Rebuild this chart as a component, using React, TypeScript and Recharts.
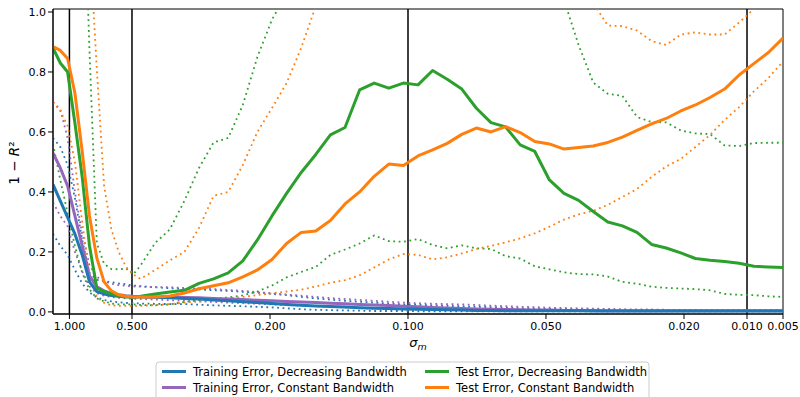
import { Label, Line, LineChart, ReferenceArea, ReferenceLine, XAxis, YAxis } from "recharts";

// position along the sigma schedule (denser sampling at the start)
const steps = [
  0, 1, 2, 3, 4, 5, 6, 7, 8, 9, 10, 11, 12,
  14, 16, 18, 20, 22, 24, 26, 28, 30, 32, 34, 36, 38, 40, 42, 44, 46, 48, 50, 52, 54, 56, 58, 60,
  62, 64, 66, 68, 70, 72, 74, 76, 78, 80, 82, 84, 86, 88, 90, 92, 94, 96, 98, 100,
];

const tickSteps = [2.25, 10.82, 29.73, 48.63, 67.53, 86.44, 95.07, 100];
const tickLabels = ["1.000", "0.500", "0.200", "0.100", "0.050", "0.020", "0.010", "0.005"];
const markerSteps = [2.25, 10.82, 48.63, 95.07]; // sigma = 1.0, 0.5, 0.1, 0.01
const yTicks = [0, 0.2, 0.4, 0.6, 0.8, 1.0];

// mean curves
const trainDec = [
  0.425, 0.37, 0.315, 0.26, 0.19, 0.1, 0.068, 0.06, 0.055, 0.052, 0.051, 0.05, 0.05,
  0.049, 0.047, 0.045, 0.043, 0.04, 0.037, 0.034, 0.031, 0.028, 0.025, 0.022, 0.02, 0.018, 0.016,
  0.014, 0.012, 0.011, 0.01, 0.009, 0.008, 0.007, 0.006, 0.005, 0.005, 0.004, 0.004, 0.004, 0.004,
  0.004, 0.004, 0.003, 0.003, 0.003, 0.003, 0.003, 0.003, 0.003, 0.003, 0.003, 0.003, 0.003, 0.003,
  0.003, 0.003,
];
const trainConst = [
  0.53, 0.48, 0.42, 0.32, 0.22, 0.12, 0.084, 0.07, 0.062, 0.057, 0.054, 0.052, 0.051,
  0.05, 0.049, 0.048, 0.047, 0.045, 0.043, 0.041, 0.039, 0.037, 0.035, 0.033, 0.031, 0.029, 0.027,
  0.025, 0.023, 0.021, 0.019, 0.017, 0.015, 0.013, 0.011, 0.01, 0.009, 0.008, 0.007, 0.006, 0.006,
  0.005, 0.005, 0.005, 0.004, 0.004, 0.004, 0.004, 0.004, 0.004, 0.004, 0.004, 0.004, 0.004, 0.004,
  0.004, 0.004,
];
const testDec = [
  0.88, 0.83, 0.8, 0.63, 0.45, 0.22, 0.08, 0.068, 0.06, 0.052, 0.05, 0.05, 0.052,
  0.06, 0.066, 0.072, 0.095, 0.11, 0.13, 0.17, 0.24, 0.32, 0.395, 0.465, 0.525, 0.59, 0.615,
  0.74, 0.763, 0.746, 0.763, 0.757, 0.805, 0.776, 0.743, 0.679, 0.631, 0.617, 0.557, 0.535, 0.44,
  0.395, 0.372, 0.335, 0.3, 0.287, 0.265, 0.225, 0.213, 0.197, 0.178, 0.172, 0.168, 0.162, 0.152,
  0.15, 0.148,
];
const testConst = [
  0.885, 0.872, 0.845, 0.73, 0.535, 0.32, 0.18, 0.1, 0.07, 0.057, 0.052, 0.05, 0.05,
  0.05, 0.053, 0.063, 0.077, 0.087, 0.097, 0.117, 0.14, 0.175, 0.228, 0.265, 0.27, 0.305, 0.36,
  0.4, 0.452, 0.493, 0.488, 0.52, 0.54, 0.562, 0.592, 0.613, 0.6, 0.618, 0.598, 0.568, 0.56,
  0.543, 0.548, 0.553, 0.565, 0.583, 0.605, 0.627, 0.645, 0.67, 0.69, 0.715, 0.743, 0.79, 0.828,
  0.865, 0.913,
];

// spread bands (dotted)
const trainDecHi = [
  0.58, 0.55, 0.49, 0.38, 0.24, 0.13, 0.107, 0.103, 0.099, 0.095, 0.092, 0.088, 0.086,
  0.082, 0.079, 0.077, 0.075, 0.072, 0.07, 0.067, 0.064, 0.06, 0.056, 0.05, 0.045, 0.041, 0.037,
  0.034, 0.031, 0.028, 0.025, 0.024, 0.022, 0.02, 0.019, 0.017, 0.016, 0.014, 0.012, 0.011, 0.01,
  0.009, 0.008, 0.008, 0.007, 0.007, 0.007, 0.006, 0.006, 0.006, 0.006, 0.005, 0.005, 0.005, 0.005,
  0.005, 0.005,
];
const trainDecLo = [
  0.26, 0.22, 0.19, 0.14, 0.095, 0.065, 0.048, 0.04, 0.035, 0.032, 0.03, 0.029, 0.028,
  0.027, 0.026, 0.026, 0.024, 0.022, 0.02, 0.019, 0.017, 0.015, 0.012, 0.009, 0.007, 0.006, 0.005,
  0.004, 0.003, 0.003, 0.003, 0.002, 0.002, 0.002, 0.002, 0.002, 0.002, 0.002, 0.002, 0.002, 0.002,
  0.002, 0.002, 0.002, 0.002, 0.002, 0.002, 0.002, 0.002, 0.002, 0.002, 0.002, 0.002, 0.002, 0.002,
  0.002, 0.002,
];
const trainConstHi = [
  0.7, 0.675, 0.58, 0.4, 0.26, 0.155, 0.117, 0.102, 0.094, 0.089, 0.087, 0.085, 0.084,
  0.083, 0.082, 0.08, 0.078, 0.076, 0.073, 0.07, 0.066, 0.062, 0.058, 0.054, 0.05, 0.046, 0.043,
  0.04, 0.037, 0.034, 0.031, 0.029, 0.027, 0.026, 0.025, 0.023, 0.021, 0.019, 0.017, 0.016, 0.014,
  0.013, 0.012, 0.011, 0.01, 0.009, 0.008, 0.008, 0.007, 0.007, 0.007, 0.006, 0.006, 0.006, 0.006,
  0.006, 0.006,
];
const trainConstLo = [
  0.365, 0.32, 0.285, 0.2, 0.135, 0.085, 0.062, 0.054, 0.05, 0.047, 0.045, 0.044, 0.043,
  0.041, 0.039, 0.037, 0.035, 0.033, 0.031, 0.029, 0.027, 0.025, 0.023, 0.021, 0.019, 0.017, 0.015,
  0.013, 0.011, 0.01, 0.009, 0.008, 0.007, 0.006, 0.006, 0.005, 0.005, 0.004, 0.004, 0.004, 0.003,
  0.003, 0.003, 0.003, 0.003, 0.003, 0.003, 0.003, 0.003, 0.003, 0.003, 0.003, 0.003, 0.003, 0.003,
  0.003, 0.003,
];
const testDecHi = [
  2.0, 2.0, 2.0, 2.0, 1.6, 0.87, 0.23, 0.16, 0.143, 0.142, 0.145, 0.125, 0.155,
  0.23, 0.275, 0.37, 0.48, 0.565, 0.58, 0.69, 0.85, 0.975, 1.06, 1.2, 1.35, 1.5, 1.6,
  1.7, 1.8, 1.9, 2.0, 2.0, 2.0, 2.0, 1.9, 1.8, 1.7, 1.6, 1.45, 1.3, 1.18,
  1.04, 0.89, 0.765, 0.727, 0.72, 0.65, 0.633, 0.632, 0.605, 0.595, 0.593, 0.555, 0.553, 0.563,
  0.564, 0.564,
];
const testDecLo = [
  0.56, 0.44, 0.33, 0.22, 0.13, 0.075, 0.045, 0.035, 0.028, 0.025, 0.025, 0.025, 0.023,
  0.022, 0.025, 0.033, 0.04, 0.045, 0.048, 0.055, 0.068, 0.088, 0.115, 0.133, 0.15, 0.19, 0.208,
  0.228, 0.255, 0.236, 0.234, 0.243, 0.223, 0.212, 0.222, 0.212, 0.21, 0.186, 0.178, 0.152, 0.142,
  0.132, 0.126, 0.125, 0.118, 0.1, 0.094, 0.084, 0.08, 0.078, 0.076, 0.072, 0.06, 0.057, 0.056,
  0.052, 0.05,
];
const testConstHi = [
  2.0, 2.0, 2.0, 2.0, 2.0, 1.25, 0.81, 0.42, 0.275, 0.2, 0.15, 0.125, 0.11,
  0.14, 0.172, 0.2, 0.28, 0.387, 0.4, 0.49, 0.6, 0.68, 0.763, 0.88, 1.02, 1.15, 1.3,
  1.45, 1.6, 1.75, 1.9, 2.0, 2.0, 2.0, 2.0, 1.9, 1.75, 1.6, 1.5, 1.4, 1.3,
  1.2, 1.1, 1.03, 0.955, 0.953, 0.938, 0.903, 0.89, 0.925, 0.932, 0.925, 0.925, 0.965, 1.01,
  1.07, 1.12,
];
const testConstLo = [
  0.7, 0.67, 0.62, 0.5, 0.3, 0.12, 0.05, 0.03, 0.022, 0.02, 0.02, 0.02, 0.02,
  0.023, 0.026, 0.031, 0.035, 0.038, 0.044, 0.05, 0.056, 0.062, 0.068, 0.074, 0.085, 0.097, 0.106,
  0.122, 0.148, 0.175, 0.193, 0.19, 0.175, 0.182, 0.195, 0.21, 0.22, 0.232, 0.245, 0.262, 0.284,
  0.308, 0.325, 0.337, 0.357, 0.383, 0.41, 0.45, 0.485, 0.51, 0.55, 0.59, 0.64, 0.683, 0.735,
  0.78, 0.835,
];

const BLUE = "#1f77b4";
const ORANGE = "#ff7f0e";
const GREEN = "#2ca02c";
const PURPLE = "#9467bd";

const data = steps.map((s, i) => ({
  s,
  trainDec: trainDec[i],
  trainConst: trainConst[i],
  testDec: testDec[i],
  testConst: testConst[i],
  trainDecHi: trainDecHi[i],
  trainDecLo: trainDecLo[i],
  trainConstHi: trainConstHi[i],
  trainConstLo: trainConstLo[i],
  testDecHi: testDecHi[i],
  testDecLo: testDecLo[i],
  testConstHi: testConstHi[i],
  testConstLo: testConstLo[i],
}));

// drawing order: bands first, then the means
const series = [
  { key: "trainDecHi", color: BLUE, dotted: true },
  { key: "trainDecLo", color: BLUE, dotted: true },
  { key: "trainConstHi", color: PURPLE, dotted: true },
  { key: "trainConstLo", color: PURPLE, dotted: true },
  { key: "testDecHi", color: GREEN, dotted: true },
  { key: "testDecLo", color: GREEN, dotted: true },
  { key: "testConstHi", color: ORANGE, dotted: true },
  { key: "testConstLo", color: ORANGE, dotted: true },
  { key: "trainConst", color: PURPLE, dotted: false },
  { key: "trainDec", color: BLUE, dotted: false },
  { key: "testDec", color: GREEN, dotted: false },
  { key: "testConst", color: ORANGE, dotted: false },
];

const legendItems = [
  { label: "Training Error, Decreasing Bandwidth", color: BLUE },
  { label: "Training Error, Constant Bandwidth", color: PURPLE },
  { label: "Test Error, Decreasing Bandwidth", color: GREEN },
  { label: "Test Error, Constant Bandwidth", color: ORANGE },
];

function ChartLegend() {
  return (
    <svg width={800} height={397} style={{ position: "absolute", left: 0, top: 0, pointerEvents: "none" }}>
      <rect x={156} y={362} width={493} height={44} rx={3} fill="#fff" fillOpacity={0.8} stroke="#ccc" />
      {legendItems.map((item, i) => {
        const col = Math.floor(i / 2);
        const row = i % 2;
        const x = col === 0 ? 162 : 425;
        const y = row === 0 ? 371.5 : 387.5;
        return (
          <g key={item.label}>
            <line x1={x} x2={x + 24} y1={y} y2={y} stroke={item.color} strokeWidth={3} />
            <text x={x + 31} y={y + 4} fontSize={11.5} fill="#000">
              {item.label}
            </text>
          </g>
        );
      })}
    </svg>
  );
}

export default function App() {
  return (
    <div
      style={{
        position: "fixed",
        left: 0,
        top: 0,
        width: 800,
        height: 397,
        overflow: "hidden",
        background: "#fff",
        fontFamily: "DejaVu Sans",
      }}
    >
      <LineChart width={800} height={397} data={data} margin={{ top: 9, right: 17, bottom: 53, left: 8 }}>
        <XAxis
          dataKey="s"
          type="number"
          domain={[0, 100]}
          allowDataOverflow
          ticks={tickSteps}
          interval={0}
          tickFormatter={(v: number) => tickLabels[tickSteps.indexOf(v)]}
          tick={{ fontSize: 11, fill: "#000" }}
          tickSize={5}
          tickMargin={3}
          axisLine={{ stroke: "#000" }}
          tickLine={{ stroke: "#000" }}
          height={30}
        >
          <Label
            content={() => (
              <text x={418} y={347} textAnchor="middle" fontSize={13} fill="#000" fontStyle="italic">
                σ
                <tspan fontSize={9.5} dy={3}>
                  m
                </tspan>
              </text>
            )}
          />
        </XAxis>
        <YAxis
          type="number"
          domain={[-0.007, 1.01]}
          allowDataOverflow
          ticks={yTicks}
          tickFormatter={(v: number) => v.toFixed(1)}
          tick={{ fontSize: 11, fill: "#000" }}
          tickSize={5}
          tickMargin={2}
          axisLine={{ stroke: "#000" }}
          tickLine={{ stroke: "#000" }}
          width={45}
        >
          <Label
            content={() => (
              <text
                x={19}
                y={163}
                transform="rotate(-90, 19, 163)"
                textAnchor="middle"
                fontSize={13.5}
                fill="#000"
              >
                1 − <tspan fontStyle="italic">R</tspan>²
              </text>
            )}
          />
        </YAxis>
        {markerSteps.map((m) => (
          <ReferenceLine key={m} x={m} stroke="#000" strokeWidth={1.5} />
        ))}
        {series.map((s) => (
          <Line
            key={s.key}
            dataKey={s.key}
            type="linear"
            stroke={s.color}
            strokeWidth={s.dotted ? 1.8 : 3}
            strokeDasharray={s.dotted ? "1.8 3.6" : undefined}
            strokeLinejoin="round"
            dot={false}
            activeDot={false}
            isAnimationActive={false}
          />
        ))}
        <ReferenceArea x1={0} x2={100} fill="none" stroke="#000" strokeWidth={1} />
      </LineChart>
      <ChartLegend />
    </div>
  );
}
